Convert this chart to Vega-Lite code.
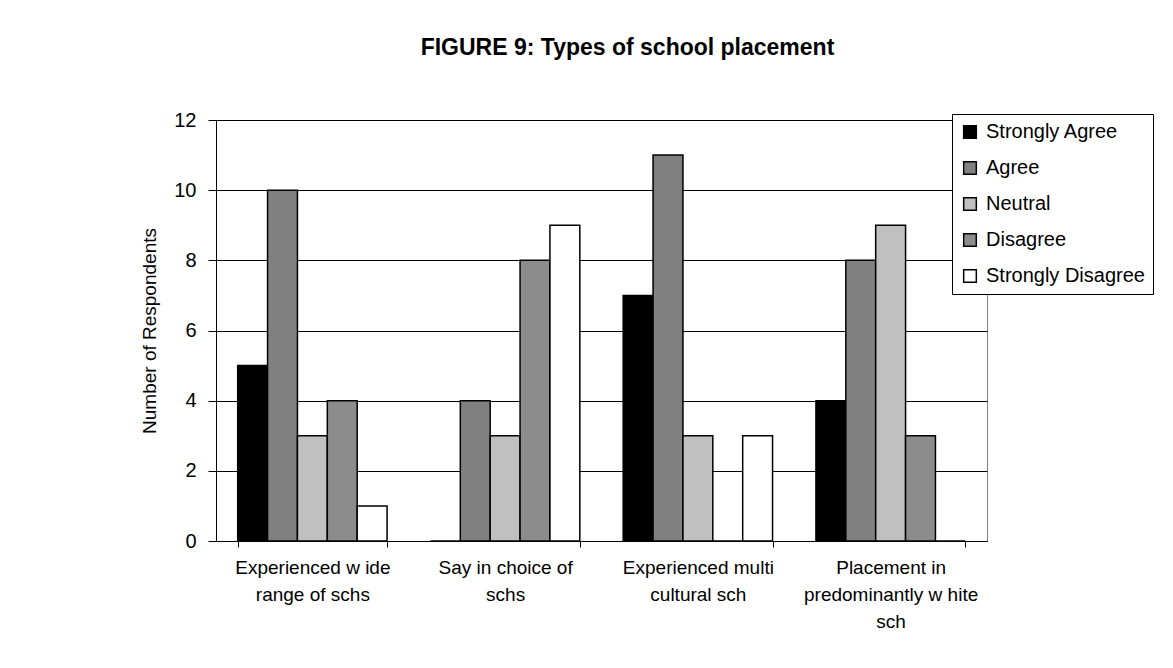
{
  "$schema": "https://vega.github.io/schema/vega-lite/v6.json",
  "width": 771,
  "height": 421,
  "autosize": {"type": "none"},
  "padding": {"left": 216, "top": 120, "right": 186, "bottom": 127},
  "background": "white",
  "title": {
    "text": "FIGURE 9: Types of school placement",
    "font": "Liberation Sans",
    "fontSize": 23,
    "fontWeight": "bold",
    "color": "#000000",
    "anchor": "middle",
    "dx": 26,
    "offset": 32,
    "baseline": "alphabetic"
  },
  "data": {
    "values": [
      {"statement": "Experienced w ide|range of schs", "response": "Strongly Agree", "count": 5},
      {"statement": "Experienced w ide|range of schs", "response": "Agree", "count": 10},
      {"statement": "Experienced w ide|range of schs", "response": "Neutral", "count": 3},
      {"statement": "Experienced w ide|range of schs", "response": "Disagree", "count": 4},
      {"statement": "Experienced w ide|range of schs", "response": "Strongly Disagree", "count": 1},
      {"statement": "Say in choice of|schs", "response": "Strongly Agree", "count": 0},
      {"statement": "Say in choice of|schs", "response": "Agree", "count": 4},
      {"statement": "Say in choice of|schs", "response": "Neutral", "count": 3},
      {"statement": "Say in choice of|schs", "response": "Disagree", "count": 8},
      {"statement": "Say in choice of|schs", "response": "Strongly Disagree", "count": 9},
      {"statement": "Experienced multi|cultural sch", "response": "Strongly Agree", "count": 7},
      {"statement": "Experienced multi|cultural sch", "response": "Agree", "count": 11},
      {"statement": "Experienced multi|cultural sch", "response": "Neutral", "count": 3},
      {"statement": "Experienced multi|cultural sch", "response": "Disagree", "count": 0},
      {"statement": "Experienced multi|cultural sch", "response": "Strongly Disagree", "count": 3},
      {"statement": "Placement in|predominantly w hite|sch", "response": "Strongly Agree", "count": 4},
      {"statement": "Placement in|predominantly w hite|sch", "response": "Agree", "count": 8},
      {"statement": "Placement in|predominantly w hite|sch", "response": "Neutral", "count": 9},
      {"statement": "Placement in|predominantly w hite|sch", "response": "Disagree", "count": 3},
      {"statement": "Placement in|predominantly w hite|sch", "response": "Strongly Disagree", "count": 0}
    ]
  },
  "mark": {"type": "bar", "stroke": "#000000", "strokeWidth": 1.5},
  "encoding": {
    "x": {
      "field": "statement",
      "type": "nominal",
      "sort": null,
      "scale": {"paddingInner": 0.225, "paddingOuter": 0.1125},
      "axis": {
        "title": null,
        "labelExpr": "split(datum.label, '|')",
        "labelFont": "Liberation Sans",
        "labelFontSize": 19,
        "labelColor": "#000000",
        "labelLineHeight": 27,
        "labelAngle": 0,
        "labelPadding": 11,
        "tickBand": "extent",
        "tickSize": 6,
        "tickColor": "#000000",
        "domainColor": "#000000",
        "grid": false
      }
    },
    "xOffset": {
      "field": "response",
      "type": "nominal",
      "sort": ["Strongly Agree", "Agree", "Neutral", "Disagree", "Strongly Disagree"],
      "scale": {"paddingInner": 0, "paddingOuter": 0}
    },
    "y": {
      "field": "count",
      "type": "quantitative",
      "scale": {"domain": [0, 12]},
      "axis": {
        "title": "Number of Respondents",
        "titleFont": "Liberation Sans",
        "titleFontSize": 19,
        "titleFontWeight": "normal",
        "titleColor": "#000000",
        "titlePadding": 14,
        "values": [0, 2, 4, 6, 8, 10, 12],
        "labelFont": "Liberation Sans",
        "labelFontSize": 20,
        "labelColor": "#000000",
        "labelPadding": 12,
        "tickSize": 8,
        "tickColor": "#000000",
        "domainColor": "#000000",
        "grid": true,
        "gridColor": "#000000",
        "gridWidth": 1
      }
    },
    "color": {
      "field": "response",
      "type": "nominal",
      "sort": ["Strongly Agree", "Agree", "Neutral", "Disagree", "Strongly Disagree"],
      "scale": {
        "domain": ["Strongly Agree", "Agree", "Neutral", "Disagree", "Strongly Disagree"],
        "range": ["#000000", "#808080", "#c0c0c0", "#8c8c8c", "#ffffff"]
      },
      "legend": {
        "orient": "none",
        "legendX": 736,
        "legendY": -6,
        "title": null,
        "strokeColor": "#000000",
        "fillColor": "#ffffff",
        "padding": 8,
        "symbolType": "square",
        "symbolSize": 160,
        "symbolStrokeColor": "#000000",
        "symbolStrokeWidth": 1.5,
        "symbolOpacity": 1,
        "labelFont": "Liberation Sans",
        "labelFontSize": 20,
        "labelColor": "#000000",
        "labelOffset": 6,
        "rowPadding": 16
      }
    }
  },
  "config": {
    "view": {"stroke": "#808080", "strokeWidth": 1},
    "font": "Liberation Sans"
  }
}
